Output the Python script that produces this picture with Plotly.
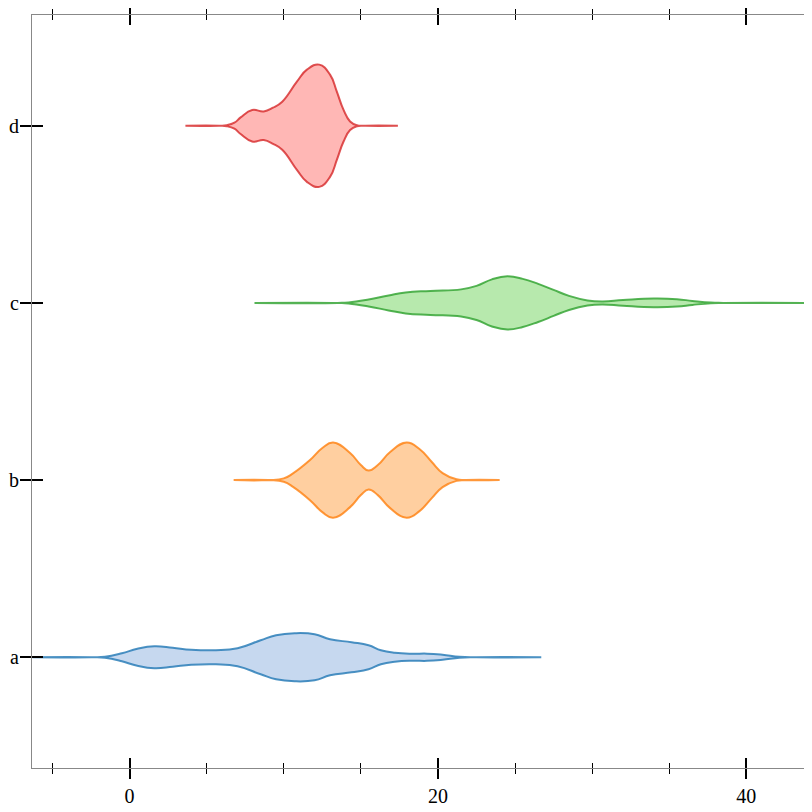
import plotly.graph_objects as go

# ---- data ----
categories = ["a", "b", "c", "d"]

# density profile per category: sample positions and (relative) density values
a_x = [-6.3, -2.5, -1.6, -0.5, 0.5, 1.6, 2.8, 4.0, 5.6, 7.0, 8.5, 9.5, 10.7, 12.0, 13.0,
       14.4, 15.5, 16.3, 17.2, 18.3, 19.3, 20.3, 21.4, 22.5, 26.7]
a_d = [0, 0, 0.5, 4, 8.5, 11, 9.5, 7.5, 7, 9, 17, 22, 24, 23, 18,
       15, 12, 7, 4.5, 3.5, 3.6, 2.5, 0.5, 0, 0]

b_x = [6.75, 9.0, 10.0, 10.6, 11.7, 12.5, 13.2, 14.3, 15.0, 15.5, 16.1, 16.9, 17.97,
       18.8, 19.6, 20.3, 21.2, 21.8, 24.0]
b_d = [0, 0, 1.7, 6.7, 20, 32, 37.5, 27, 15, 9.5, 15, 28, 37.5,
       31, 18, 7, 0.8, 0, 0]

c_x = [8.1, 13.5, 14.2, 15.5, 16.8, 17.9, 19.5, 21.5, 22.5, 23.5, 24.5, 25.5, 26.5,
       27.5, 28.5, 29.7, 30.7, 32.0, 34.0, 35.5, 36.5, 37.7, 38.5, 43.9]
c_d = [0, 0, 0.5, 3.5, 7.5, 10.5, 12, 13.5, 17, 23.5, 26.5, 24, 19,
       13, 7, 2.5, 1.5, 2.8, 4.3, 3.7, 2, 0.3, 0, 0]

d_x = [3.62, 5.8, 6.3, 6.8, 7.2, 7.95, 8.7, 9.3, 9.9, 10.85, 11.5, 12.3, 13.0, 13.44,
       13.87, 14.3, 14.74, 15.3, 17.4]
d_d = [0, 0, 0.5, 3, 8.3, 15.7, 14.3, 18, 24, 44, 56, 61, 51, 34,
       16, 4.3, 0.5, 0, 0]

x_ticks = [0, 20, 40]

profiles = [(a_x, a_d), (b_x, b_d), (c_x, c_d), (d_x, d_d)]
line_colors = ["rgba(31,119,180,0.8)", "rgba(255,127,14,0.8)",
               "rgba(44,160,44,0.8)", "rgba(214,39,40,0.8)"]
fill_colors = ["rgba(174,199,232,0.7)", "rgba(255,187,120,0.7)",
               "rgba(152,223,138,0.7)", "rgba(255,152,150,0.7)"]

max_density = max(max(d) for _, d in profiles)
half_width = 0.345  # max half-width in category units

fig = go.Figure()
for i, (xs, ds) in enumerate(profiles):
    w = [v / max_density * half_width for v in ds]
    px = list(xs) + list(xs[::-1])[1:]
    py = [i + v for v in w] + [i - v for v in w[::-1]][1:]
    fig.add_trace(go.Scatter(
        x=px, y=py, mode="lines", fill="toself",
        fillcolor=fill_colors[i],
        line=dict(color=line_colors[i], width=2, shape="spline", smoothing=1.3),
        hoverinfo="skip", showlegend=False,
    ))

# empty trace so the overlaying tick axes get drawn
fig.add_trace(go.Scatter(x=[None], y=[None], xaxis="x2", yaxis="y2",
                         mode="lines", hoverinfo="skip", showlegend=False))

xr = [-6.33, 43.87]
yr = [-0.625, 3.625]
font = dict(family="Liberation Serif, Times New Roman, serif", size=20, color="black")

fig.update_layout(
    width=804, height=804,
    margin=dict(l=24, r=6, t=7, b=44),
    paper_bgcolor="white", plot_bgcolor="white",
    font=font,
    showlegend=False,
    xaxis=dict(
        range=xr, tickvals=x_ticks, ticktext=[str(t) for t in x_ticks],
        ticks="outside", ticklen=10, tickwidth=2, tickcolor="black",
        showline=True, linecolor="#888888", linewidth=1, mirror="ticks",
        showgrid=False, zeroline=False, tickfont=font, automargin=False,
        minor=dict(dtick=5, tick0=0, ticks="outside", ticklen=5, tickwidth=1,
                   tickcolor="black", showgrid=False),
    ),
    xaxis2=dict(
        range=xr, overlaying="x", anchor="y2", tickvals=x_ticks,
        ticks="inside", ticklen=10, tickwidth=2, tickcolor="black",
        showline=False, mirror="ticks", showticklabels=False,
        showgrid=False, zeroline=False, automargin=False,
        minor=dict(dtick=5, tick0=0, ticks="inside", ticklen=5, tickwidth=1,
                   tickcolor="black", showgrid=False),
    ),
    yaxis=dict(
        range=yr, tickvals=[0, 1, 2, 3], ticktext=categories,
        ticks="outside", ticklen=11, tickwidth=1.5, tickcolor="black",
        showline=True, linecolor="#888888", linewidth=1, mirror=True,
        showgrid=False, zeroline=False, tickfont=font, automargin=False,
        ticklabelstandoff=-3,
    ),
    yaxis2=dict(
        range=yr, overlaying="y", anchor="x2", tickvals=[0, 1, 2, 3],
        ticks="inside", ticklen=11, tickwidth=1.5, tickcolor="black",
        showline=False, showticklabels=False,
        showgrid=False, zeroline=False, automargin=False,
    ),
)

fig.write_html("out.html")
